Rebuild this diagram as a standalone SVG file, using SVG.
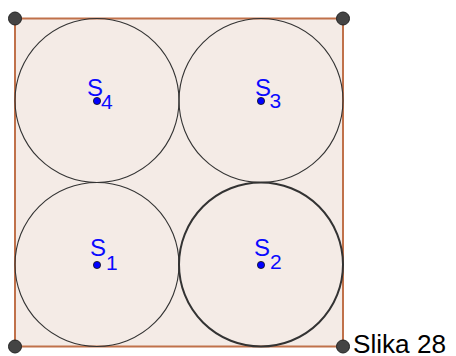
<svg xmlns="http://www.w3.org/2000/svg" width="456" height="356" viewBox="0 0 456 356">
  <style>
    .sq { fill: #f4ebe6; stroke: #c0714a; stroke-width: 2; }
    .circ { fill: none; stroke: #333333; stroke-width: 1.1; }
    .circ.thick { stroke-width: 2; }
    .vert { fill: #444444; stroke: #222222; stroke-width: 1; }
    .ctr { fill: #0000ff; stroke: #111111; stroke-width: 0.8; }
    .lbl { font-family: "Liberation Sans", Arial, sans-serif; font-size: 24px; fill: #0a0aff; }
    .sub { font-family: "Liberation Sans", Arial, sans-serif; font-size: 21px; fill: #0a0aff; }
    .cap { font-family: "Liberation Sans", Arial, sans-serif; font-size: 25px; fill: #000000; }
  </style>
  <rect width="456" height="356" fill="#ffffff"/>
  <g id="square">
    <rect class="sq" x="15" y="18.5" width="328" height="328"/>
  </g>
  <g id="circle-S4"><circle class="circ" cx="97" cy="100.5" r="82"/></g>
  <g id="circle-S3"><circle class="circ" cx="261" cy="100.5" r="82"/></g>
  <g id="circle-S1"><circle class="circ" cx="97" cy="264.5" r="82"/></g>
  <g id="circle-S2"><circle class="circ thick" cx="261" cy="264.5" r="82"/></g>
  <g id="connectors"></g>
  <g id="vertices">
    <circle class="vert" cx="15" cy="18.5" r="6.5"/>
    <circle class="vert" cx="343" cy="18.5" r="6.5"/>
    <circle class="vert" cx="15" cy="346.5" r="6.5"/>
    <circle class="vert" cx="343" cy="346.5" r="6.5"/>
  </g>
  <g id="S4">
    <circle class="ctr" cx="97" cy="101" r="3.6"/>
    <text class="lbl" x="87" y="95.5">S</text>
    <text class="sub" x="101" y="109">4</text>
  </g>
  <g id="S3">
    <circle class="ctr" cx="261" cy="101" r="3.6"/>
    <text class="lbl" x="255" y="95.5">S</text>
    <text class="sub" x="269.5" y="107.5">3</text>
  </g>
  <g id="S1">
    <circle class="ctr" cx="97" cy="265" r="3.6"/>
    <text class="lbl" x="90" y="256">S</text>
    <text class="sub" x="106" y="270">1</text>
  </g>
  <g id="S2">
    <circle class="ctr" cx="261" cy="265" r="3.6"/>
    <text class="lbl" x="254" y="256">S</text>
    <text class="sub" x="270" y="269">2</text>
  </g>
  <g id="caption">
    <text class="cap" x="353" y="353" textLength="93" lengthAdjust="spacingAndGlyphs">Slika 28</text>
  </g>
</svg>
